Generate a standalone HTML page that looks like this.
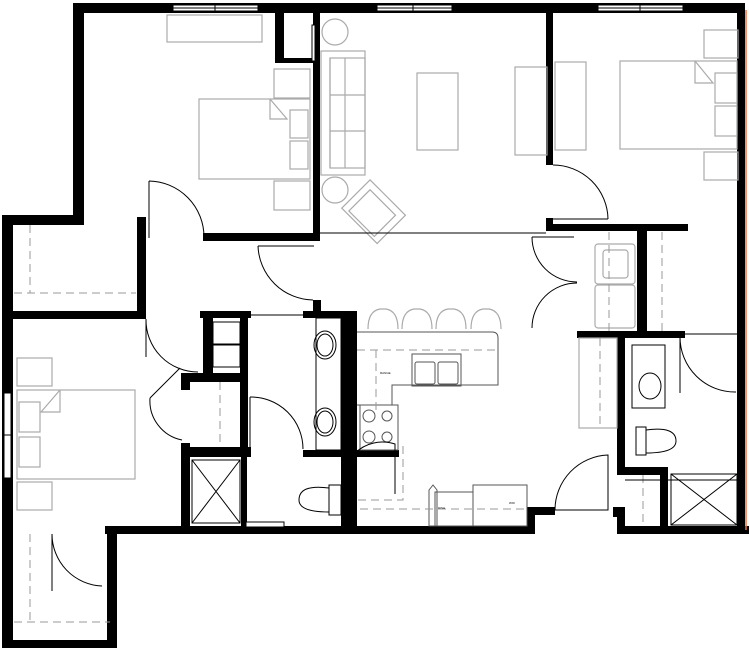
<!DOCTYPE html>
<html><head><style>body{margin:0;background:#fff}svg{display:block}</style></head><body>
<svg width="749" height="649" viewBox="0 0 749 649" xmlns="http://www.w3.org/2000/svg">
<g fill="#000">
<rect x="73" y="3" width="672" height="10"/>
<rect x="73" y="3" width="11" height="222"/>
<rect x="2" y="215" width="82" height="10"/>
<rect x="2" y="215" width="11" height="433"/>
<rect x="2" y="640" width="115" height="8"/>
<rect x="107" y="527" width="10" height="121"/>
<rect x="105" y="526" width="430" height="8"/>
<rect x="527" y="507" width="28" height="8"/>
<rect x="527" y="507" width="8" height="27"/>
<rect x="613" y="507" width="12" height="10"/>
<rect x="617" y="507" width="8" height="27"/>
<rect x="617" y="526" width="132" height="8"/>
<rect x="737" y="10" width="8" height="522"/>
<rect x="313" y="12" width="7" height="226"/>
<rect x="275" y="12" width="9" height="50"/>
<rect x="275" y="58" width="45" height="5"/>
<rect x="203" y="233" width="117" height="8"/>
<rect x="313" y="300" width="8" height="12"/>
<rect x="137" y="217" width="9" height="102"/>
<rect x="2" y="311" width="144" height="8"/>
<rect x="200" y="311" width="51" height="7"/>
<rect x="303" y="311" width="54" height="7"/>
<rect x="203" y="311" width="10" height="64"/>
<rect x="240" y="311" width="8" height="146"/>
<rect x="181" y="373" width="67" height="9"/>
<rect x="181" y="373" width="9" height="17"/>
<rect x="181" y="443" width="9" height="84"/>
<rect x="181" y="447" width="70" height="10"/>
<rect x="241" y="457" width="6" height="70"/>
<rect x="341" y="311" width="16" height="216"/>
<rect x="303" y="450" width="54" height="7"/>
<rect x="546" y="12" width="7" height="153"/>
<rect x="546" y="218" width="7" height="13"/>
<rect x="546" y="224" width="142" height="7"/>
<rect x="637" y="231" width="10" height="100"/>
<rect x="577" y="331" width="108" height="7"/>
<rect x="617" y="331" width="8" height="143"/>
<rect x="617" y="467" width="50" height="8"/>
<rect x="660" y="467" width="8" height="62"/>
<rect x="357" y="450" width="42" height="7"/>
</g>
<g fill="#fff" stroke="#000" stroke-width="1">
<rect x="173" y="5" width="85" height="6"/><line x1="215" y1="5" x2="215" y2="11"/><line x1="173" y1="8" x2="258" y2="8"/>
<rect x="377" y="5" width="75" height="6"/><line x1="413" y1="5" x2="413" y2="11"/><line x1="377" y1="8" x2="452" y2="8"/>
<rect x="598" y="5" width="85" height="6"/><line x1="640" y1="5" x2="640" y2="11"/><line x1="598" y1="8" x2="683" y2="8"/>
<rect x="4" y="393" width="7" height="85"/><line x1="4" y1="435" x2="11" y2="435"/>
<rect x="246" y="522" width="38" height="5"/>
<rect x="312" y="25" width="3" height="36"/>
</g>
<line x1="746" y1="10" x2="746" y2="530" stroke="#e87040" stroke-width="1.5"/>
<g fill="none" stroke="#aaa" stroke-width="1.2">
<rect x="167" y="15" width="95" height="27"/>
<rect x="274" y="69" width="36" height="29"/><rect x="274" y="181" width="36" height="29"/>
<rect x="199" y="99" width="111" height="80"/><path d="M270 99v20h17l-17-20"/><rect x="290" y="110" width="18" height="28"/><rect x="290" y="141" width="18" height="28"/>
<circle cx="335" cy="32" r="13"/><circle cx="335" cy="190" r="13"/>
<rect x="321" y="51" width="44" height="124"/><line x1="330" y1="58" x2="330" y2="168"/><line x1="345" y1="58" x2="345" y2="168"/><line x1="330" y1="95" x2="365" y2="95"/><line x1="330" y1="131" x2="365" y2="131"/><rect x="330" y="58" width="35" height="110"/>
<rect x="341" y="196" width="50" height="40" transform="rotate(45 375 223)"/><rect x="348" y="203" width="36" height="30" transform="rotate(45 375 223)"/>
<rect x="417" y="73" width="41" height="77"/>
<rect x="515" y="67" width="32" height="88"/><rect x="555" y="62" width="31" height="88"/>
<rect x="704" y="30" width="34" height="28"/><rect x="704" y="152" width="34" height="28"/>
<rect x="620" y="61" width="117" height="88"/><path d="M695 61v22h18l-18-22"/><rect x="715" y="73" width="22" height="30"/><rect x="715" y="106" width="22" height="30"/>
<rect x="17" y="358" width="35" height="28"/><rect x="17" y="482" width="35" height="28"/>
<rect x="17" y="390" width="118" height="89"/><path d="M60 390v22h-19l19-22"/><rect x="19" y="402" width="21" height="30"/><rect x="19" y="437" width="21" height="30"/>
<rect x="595" y="244" width="40" height="40" rx="3"/><rect x="595" y="285" width="40" height="43" rx="3"/><rect x="603" y="250" width="25" height="28" rx="3"/>
<rect x="579" y="338" width="38" height="90"/>
</g>
<g fill="none" stroke="#aaa" stroke-width="1.2">
<path d="M368 329q0-18 12-20h6q12 2 12 20"/><path d="M402 329q0-18 12-20h6q12 2 12 20"/><path d="M436 329q0-18 12-20h6q12 2 12 20"/><path d="M471 329q0-18 12-20h6q12 2 12 20"/>
</g>
<g fill="none" stroke="#555" stroke-width="1">
<path d="M357 332h135q6 0 6 6v47h-106v20h-35"/>
<rect x="412" y="354" width="49" height="32"/><rect x="415" y="362" width="20" height="22" rx="2"/><rect x="438" y="362" width="20" height="22" rx="2"/>
<rect x="360" y="405" width="38" height="45"/><circle cx="369" cy="416" r="6"/><circle cx="387" cy="416" r="5"/><circle cx="369" cy="437" r="6"/><circle cx="387" cy="437" r="5"/>
<rect x="473" y="485" width="54" height="41"/><rect x="435" y="492" width="38" height="34"/>
<path d="M429 490l4-5 4 5v36h-8z"/>
</g>
<g fill="none" stroke="#999" stroke-width="1" stroke-dasharray="8 5">
<path d="M14 293h122M30 225v68"/>
<path d="M14 622h96M30 534v88"/>
<path d="M357 350h140M376 350v60"/>
<path d="M358 500h45v-55"/>
<path d="M360 509h167"/>
<path d="M220 382v65"/>
<path d="M609 232v100M662 232v100"/>
<path d="M600 338v90"/>
<path d="M643 475v51"/>
</g>
<g fill="none" stroke="#000" stroke-width="1">
<path d="M149 181v57M149 181a56 56 0 0 1 55 56"/>
<path d="M258 246h56M258 246a56 56 0 0 0 55 54"/>
<path d="M146 319v38M146 319a52 52 0 0 0 52 53" />
<path d="M553 219h55M553 165a55 55 0 0 1 55 54"/>
<path d="M532 237h42M532 237a45 45 0 0 0 45 45"/>
<path d="M577 283a45 45 0 0 0 -45 45"/>
<path d="M150 398l30 -30M150 398a40 40 0 0 0 32 42"/>
<path d="M250 397v54M250 397a52 52 0 0 1 53 52"/>
<path d="M355 453a40 40 0 0 1 40 -9v50"/>
<path d="M555 510a55 55 0 0 1 53 -55v55h-55"/>
<path d="M680 337v56M680 337a55 55 0 0 0 56 55"/>
<path d="M52 534v57M52 534a52 52 0 0 0 50 52"/>
<line x1="320" y1="233" x2="546" y2="233"/>
<line x1="685" y1="334" x2="737" y2="334"/>
<line x1="251" y1="315" x2="303" y2="315"/>
<line x1="625" y1="480" x2="737" y2="480"/>
</g>
<g fill="none" stroke="#000" stroke-width="1">
<rect x="316" y="318" width="25" height="132"/>
<ellipse cx="325" cy="345" rx="11" ry="14"/><ellipse cx="325" cy="345" rx="8" ry="11"/>
<ellipse cx="325" cy="422" rx="11" ry="14"/><ellipse cx="325" cy="422" rx="8" ry="11"/>
<path d="M329 485h12v30h-12z"/><path d="M329 488q-30 -4 -30 12q0 12 30 12"/>
<rect x="192" y="460" width="48" height="63"/><path d="M192 460l48 63M240 460l-48 63"/>
<rect x="213" y="322" width="27" height="22"/><rect x="213" y="345" width="27" height="22"/>
<rect x="632" y="345" width="33" height="63"/><ellipse cx="650" cy="386" rx="11" ry="13"/>
<path d="M636 427h10v28h-10z"/><path d="M646 430q30 -4 30 11q0 12 -30 12"/>
<rect x="671" y="474" width="66" height="51"/><path d="M671 474l66 51M737 474l-66 51"/>
</g>
<g font-family="Liberation Sans, sans-serif" font-size="3" fill="#000">
<text x="380" y="374">RANGE</text><text x="438" y="509">DISH</text><text x="509" y="504">W/D</text>
</g>
</svg>
</body></html>
